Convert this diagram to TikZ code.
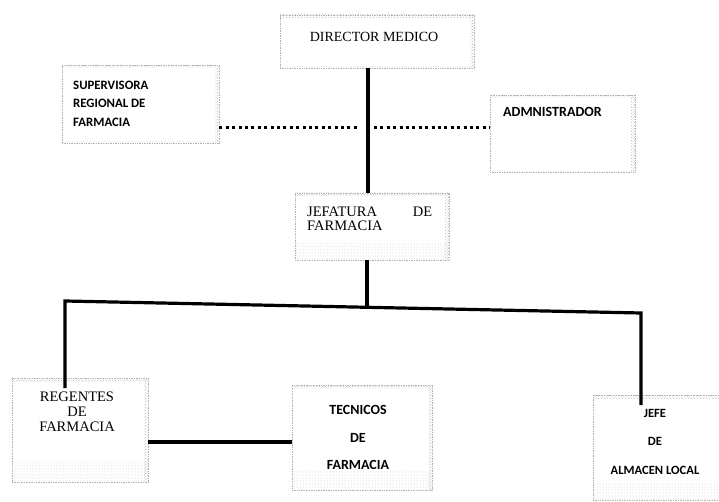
\documentclass[tikz,border=0pt]{standalone}
\usepackage{fontspec}
\setmainfont{Liberation Serif}
\newfontfamily\carl{Carlito}
\usetikzlibrary{patterns}
\begin{document}
\begin{tikzpicture}[x=1pt,y=-1pt,
  box/.style={rectangle, draw=gray!60, densely dotted, line width=0.7pt, inner sep=0pt},
  shadeb/.style={path picture={
     \fill[pattern=dots, pattern color=gray!45] ([yshift=-1pt]path picture bounding box.south west) rectangle ([yshift=#1]path picture bounding box.south east);
     \fill[pattern=crosshatch dots, pattern color=gray!55] ([yshift=-3pt]path picture bounding box.north west) rectangle (path picture bounding box.north east);
     \fill[pattern=crosshatch dots, pattern color=gray!55] ([xshift=-4pt]path picture bounding box.north east) rectangle (path picture bounding box.south east);}},
  sertxt/.style={font=\fontsize{14.5}{14}\selectfont, inner sep=0pt},
  santxt/.style={font=\carl\bfseries\fontsize{12.8}{18.5}\selectfont, inner sep=0pt},
  conn/.style={line width=3.2pt, line join=miter},
  dotline/.style={line width=3pt, dash pattern=on 3pt off 3.4pt}]
\useasboundingbox[fill=white] (0,0) rectangle (719,502);

% boxes
\node[box, shadeb=2pt, minimum width=194pt, minimum height=53pt] (dir) at (377,41.5) {};
\node[box, shadeb=2pt, minimum width=157pt, minimum height=78pt] (sup) at (140.5,104) {};
\node[box, shadeb=2pt, minimum width=145pt, minimum height=77pt] (adm) at (562.5,133.5) {};
\node[box, shadeb=16pt, minimum width=154pt, minimum height=67pt] (jef) at (372,226.5) {};
\node[box, shadeb=22pt, minimum width=136pt, minimum height=104pt] (reg) at (80,430) {};
\node[box, shadeb=20pt, minimum width=140pt, minimum height=105pt] (tec) at (362,437.5) {};
\node[box, shadeb=18pt, minimum width=137pt, minimum height=105pt] (jal) at (661.5,447.5) {};

% texts
\node[sertxt, font=\fontsize{14}{14}\selectfont] (dirt) at (374,37) {DIRECTOR MEDICO};
\node[santxt, anchor=west, align=left] (supt) at (73,103.5) {SUPERVISORA\\REGIONAL DE\\FARMACIA};
\node[santxt, anchor=west, font=\carl\bfseries\fontsize{14}{14}\selectfont] (admt) at (503,112) {ADMNISTRADOR};
\node[sertxt, anchor=west, align=left] (jeft) at (307,219) {\makebox[125pt][s]{JEFATURA\hfill DE}\\FARMACIA};
\node[sertxt, align=center, font=\fontsize{14.5}{15}\selectfont] (regt) at (77,412) {REGENTES\\DE\\FARMACIA};
\node[santxt, align=center, font=\carl\bfseries\fontsize{14}{27.5}\selectfont] (tect) at (358,437.5) {TECNICOS\\DE\\FARMACIA};
\node[santxt, align=center, font=\carl\bfseries\fontsize{12.6}{28.5}\selectfont] (jalt) at (655,441.5) {JEFE\\DE\\ALMACEN LOCAL};

% coordinates
\coordinate (spine) at (368,0);
\coordinate (gapL) at (358,128);
\coordinate (gapR) at (374,128);
\coordinate (busL) at (65,301);
\coordinate (busM) at (367,307);
\coordinate (busR) at (641,313);
\coordinate (regIn) at (65,388);
\coordinate (jalIn) at (641,405);
\coordinate (dl) at (0,128);
\coordinate (rt) at (0,442);

% connectors
\draw[dotline] (sup.east |- dl) -- (gapL);
\draw[dotline] (gapR) -- (adm.west |- dl);
\draw[conn] (dir.south -| spine) -- (jef.north -| spine);
\draw[conn] (jef.south -| busM) -- (busM);
\draw[conn] (regIn) -- (busL) -- (busR) -- (jalIn);
\draw[conn] (reg.east |- rt) -- (tec.west |- rt);
\end{tikzpicture}
\end{document}
